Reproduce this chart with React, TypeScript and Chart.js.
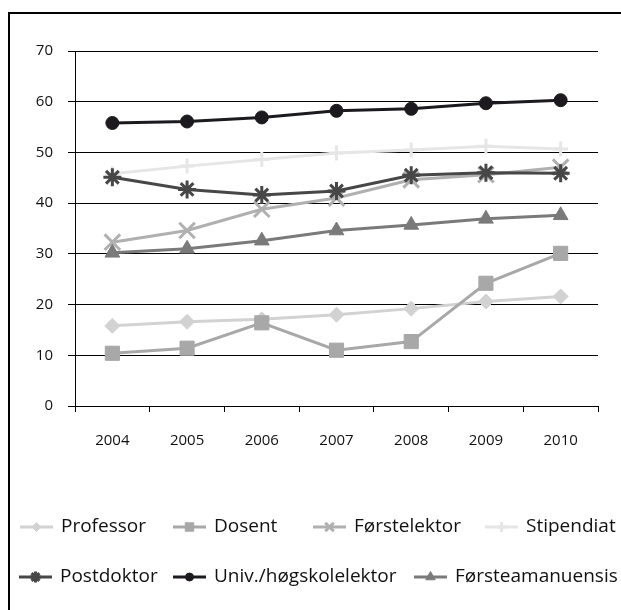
import React, { useEffect, useRef } from "react";
import { Chart, registerables } from "chart.js";
import { drawPoint } from "chart.js/helpers";

Chart.register(...registerables);

const years = ["2004", "2005", "2006", "2007", "2008", "2009", "2010"];
const seriesNames = [
  "Professor",
  "Dosent",
  "Førstelektor",
  "Stipendiat",
  "Postdoktor",
  "Univ./høgskolelektor",
  "Førsteamanuensis",
];
const professor = [15.8, 16.6, 17.1, 18.0, 19.2, 20.6, 21.6];
const dosent = [10.4, 11.4, 16.4, 11.0, 12.7, 24.2, 30.1];
const forstelektor = [32.3, 34.6, 38.8, 41.0, 44.6, 45.6, 47.1];
const stipendiat = [45.8, 47.3, 48.6, 49.9, 50.5, 51.2, 50.7];
const postdoktor = [45.1, 42.7, 41.6, 42.4, 45.5, 46.0, 45.9];
const univ = [55.8, 56.1, 56.9, 58.2, 58.6, 59.7, 60.3];
const forsteamanuensis = [30.2, 31.0, 32.6, 34.6, 35.7, 36.9, 37.6];
const yTicks = [0, 10, 20, 30, 40, 50, 60, 70];

const seriesValues = [professor, dosent, forstelektor, stipendiat, postdoktor, univ, forsteamanuensis];
const colors = ["#d2d2d2", "#a8a8a8", "#b0b0b0", "#e6e6e6", "#474747", "#1c1a1f", "#7a7a7a"];
const styles = ["rectRot", "rect", "crossRot", "cross", "star", "circle", "triangle"];
const radii = [7.5, 10, 11, 7.5, 9, 6.5, 8.5];
const legendRadii = [4.5, 6, 6, 5, 5.5, 4, 5.5];

const FONT = '"Open Sans", "Noto Sans", sans-serif';

const legendLayout = [
  { x: 20, y: 527 },
  { x: 173, y: 527 },
  { x: 313, y: 527 },
  { x: 485, y: 527 },
  { x: 19, y: 577 },
  { x: 173, y: 577 },
  { x: 414, y: 577 },
];

const customLegend = {
  id: "customLegend",
  afterDraw(chart: any) {
    const ctx = chart.ctx;
    ctx.save();
    chart.data.datasets.forEach((ds: any, i: number) => {
      const pos = legendLayout[i];
      const lineLen = 33;
      ctx.strokeStyle = ds.borderColor;
      ctx.fillStyle = ds.borderColor;
      ctx.lineWidth = 3;
      ctx.beginPath();
      ctx.moveTo(pos.x, pos.y);
      ctx.lineTo(pos.x + lineLen, pos.y);
      ctx.stroke();
      ctx.lineWidth = ds.pointBorderWidth;
      drawPoint(
        ctx,
        {
          pointStyle: ds.pointStyle,
          radius: legendRadii[i],
          rotation: 0,
          borderWidth: ds.pointBorderWidth,
        } as any,
        pos.x + lineLen / 2,
        pos.y
      );
      ctx.fillStyle = "#111";
      ctx.font = `19px ${FONT}`;
      ctx.textBaseline = "middle";
      ctx.textAlign = "left";
      ctx.fillText(ds.label, pos.x + lineLen + 8, pos.y);
    });
    ctx.restore();
  },
};

export default function App() {
  const ref = useRef<HTMLCanvasElement | null>(null);
  useEffect(() => {
    if (!ref.current) return;
    const datasets = seriesNames.map((name, i) => ({
      label: name,
      data: seriesValues[i],
      borderColor: colors[i],
      backgroundColor: colors[i],
      pointBackgroundColor: colors[i],
      pointBorderColor: colors[i],
      pointStyle: styles[i],
      pointRadius: radii[i],
      pointBorderWidth: styles[i] === "cross" || styles[i] === "crossRot" || styles[i] === "star" ? 3 : 1,
      borderWidth: 3,
      tension: 0,
      fill: false,
      order: seriesNames.length - i,
    }));
    const chart = new Chart(ref.current, {
      type: "line",
      data: { labels: years, datasets },
      plugins: [customLegend],
      options: {
        responsive: false,
        animation: false,
        layout: { padding: { left: 0, top: 51, right: 23, bottom: 0 } },
        plugins: { legend: { display: false }, tooltip: { enabled: false } },
        scales: {
          x: {
            offset: true,
            grid: {
              offset: true,
              drawOnChartArea: false,
              drawTicks: true,
              tickLength: 6,
              color: "#000",
            },
            border: { display: true, color: "#000", width: 1 },
            ticks: {
              color: "#111",
              font: { family: FONT, size: 15 },
              padding: 20,
              maxRotation: 0,
            },
            afterFit: (s: any) => {
              s.height = 204;
            },
          },
          y: {
            min: 0,
            max: 70,
            afterBuildTicks: (s: any) => {
              s.ticks = yTicks.map((v) => ({ value: v }));
            },
            grid: { color: "#000", lineWidth: 1, tickLength: 7, drawTicks: true },
            border: { display: true, color: "#000", width: 1 },
            ticks: {
              color: "#111",
              font: { family: FONT, size: 15 },
              padding: 15,
            },
            afterFit: (s: any) => {
              s.width = 75;
            },
          },
        },
      },
    });
    return () => chart.destroy();
  }, []);

  return (
    <div style={{ position: "fixed", left: 0, top: 0, width: 621, height: 610, overflow: "hidden", background: "#fff" }}>
      <div
        style={{
          position: "absolute",
          left: 8,
          top: 12,
          width: 700,
          height: 700,
          borderLeft: "2px solid #000",
          borderTop: "2px solid #000",
        }}
      />
      <canvas ref={ref} width={621} height={610} style={{ position: "absolute", left: 0, top: 0 }} />
    </div>
  );
}
